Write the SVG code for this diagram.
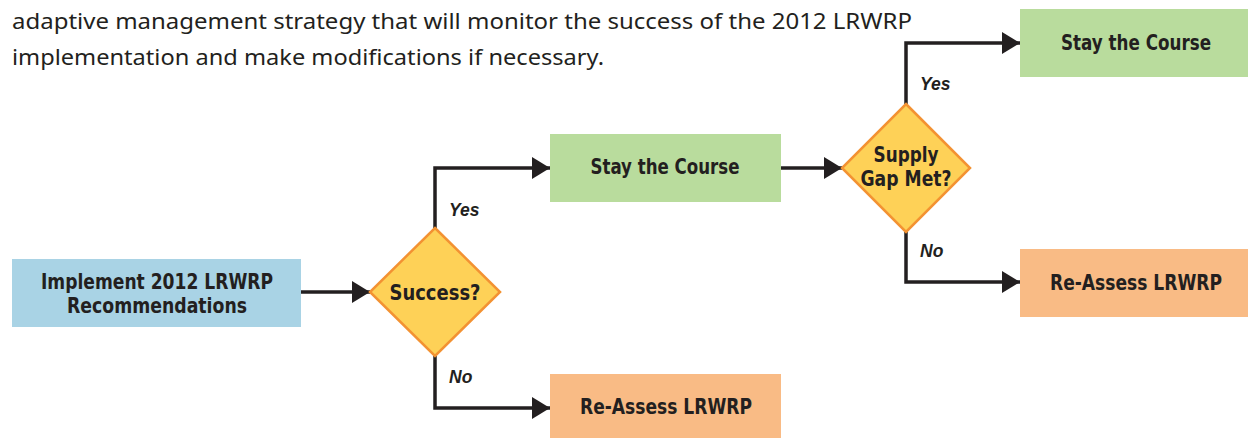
<svg xmlns="http://www.w3.org/2000/svg" width="1248" height="438" viewBox="0 0 1248 438">
  <style>
    .intro { font-family: "Noto Sans", "Open Sans", sans-serif; font-size: 21.5px; fill: #231f20; }
    .box-label { font-family: "DejaVu Sans Condensed", "Liberation Sans", sans-serif; font-size: 22px; font-weight: bold; fill: #231f20; text-anchor: middle; }
    .branch { font-family: "Liberation Sans", sans-serif; font-size: 17.5px; font-weight: bold; font-style: italic; fill: #231f20; }
    .conn { fill: none; stroke: #231f20; stroke-width: 3.5; stroke-linejoin: miter; }
    .decision { fill: #fed157; stroke: #f39232; stroke-width: 2.5; }
    .start { fill: #a9d3e5; }
    .keep { fill: #b9dc9d; }
    .redo { fill: #f9bb85; }
  </style>
  <defs>
    <marker id="arrow" markerUnits="userSpaceOnUse" markerWidth="20" markerHeight="22" refX="18" refY="11" orient="auto">
      <path d="M0,0 L18,11 L0,22 Z" fill="#231f20"/>
    </marker>
  </defs>

  <!-- introductory paragraph -->
  <text class="intro" x="12" y="29" textLength="900" lengthAdjust="spacingAndGlyphs">adaptive management strategy that will monitor the success of the 2012 LRWRP</text>
  <text class="intro" x="12" y="65" textLength="592" lengthAdjust="spacingAndGlyphs">implementation and make modifications if necessary.</text>

  <!-- connectors -->
  <g id="connectors">
    <path class="conn" d="M301,292 H370" marker-end="url(#arrow)"/>
    <path class="conn" d="M435,228 V168 H550" marker-end="url(#arrow)"/>
    <path class="conn" d="M435,356 V408 H550" marker-end="url(#arrow)"/>
    <path class="conn" d="M781,168 H842" marker-end="url(#arrow)"/>
    <path class="conn" d="M906,104 V43 H1020" marker-end="url(#arrow)"/>
    <path class="conn" d="M906,232 V282 H1020" marker-end="url(#arrow)"/>
    <text class="branch" x="449" y="216">Yes</text>
    <text class="branch" x="449" y="383">No</text>
    <text class="branch" x="920" y="90">Yes</text>
    <text class="branch" x="920" y="257">No</text>
  </g>

  <g id="implement">
    <rect class="start" x="12" y="259" width="289" height="68"/>
    <text class="box-label" x="157" y="289" textLength="232" lengthAdjust="spacingAndGlyphs">Implement 2012 LRWRP</text>
    <text class="box-label" x="157" y="313" textLength="180" lengthAdjust="spacingAndGlyphs">Recommendations</text>
  </g>

  <g id="success">
    <path class="decision" d="M435,228 L500,292 L435,356 L370,292 Z"/>
    <text class="box-label" x="435" y="300" textLength="91" lengthAdjust="spacingAndGlyphs">Success?</text>
  </g>

  <g id="stay1">
    <rect class="keep" x="550" y="134" width="231" height="68"/>
    <text class="box-label" x="665" y="174" textLength="149" lengthAdjust="spacingAndGlyphs">Stay the Course</text>
  </g>

  <g id="reassess1">
    <rect class="redo" x="550" y="374" width="231" height="64"/>
    <text class="box-label" x="666" y="414" textLength="172" lengthAdjust="spacingAndGlyphs">Re-Assess LRWRP</text>
  </g>

  <g id="supply-gap">
    <path class="decision" d="M906,104 L970,168 L906,232 L842,168 Z"/>
    <text class="box-label" x="906" y="162" textLength="65" lengthAdjust="spacingAndGlyphs">Supply</text>
    <text class="box-label" x="906" y="186" textLength="91" lengthAdjust="spacingAndGlyphs">Gap Met?</text>
  </g>

  <g id="stay2">
    <rect class="keep" x="1020" y="9" width="230" height="68"/>
    <text class="box-label" x="1136" y="50" textLength="150" lengthAdjust="spacingAndGlyphs">Stay the Course</text>
  </g>

  <g id="reassess2">
    <rect class="redo" x="1020" y="249" width="230" height="68"/>
    <text class="box-label" x="1136" y="290" textLength="172" lengthAdjust="spacingAndGlyphs">Re-Assess LRWRP</text>
  </g>
</svg>
